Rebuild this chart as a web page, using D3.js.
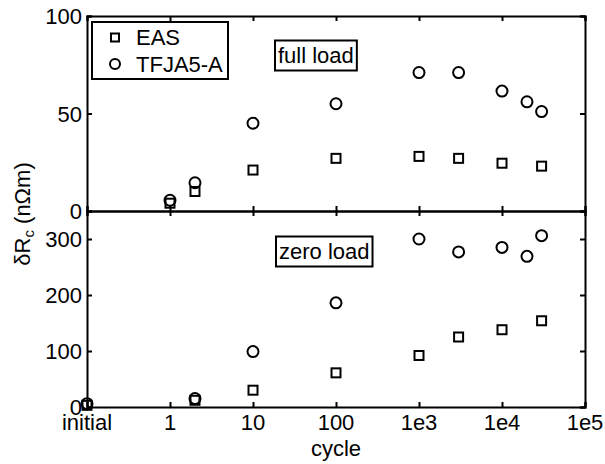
<!DOCTYPE html>
<html lang="en">
<head>
<meta charset="UTF-8">
<title>dR_c vs cycle</title>
<style>
  body { margin: 0; background: #fff; }
  text { font-family: "Liberation Sans", Arial, sans-serif; font-size: 22px; fill: #000; }
</style>
</head>
<body>
<script src="https://cdn.jsdelivr.net/npm/d3@7"></script>
<script>
    // "initial" is drawn at 0.1 on the log axis
    const xTicks = [0.1, 1, 10, 100, 1e3, 1e4, 1e5];
    const xTickLabels = ["initial", "1", "10", "100", "1e3", "1e4", "1e5"];

    // full load panel
    const fullCycles = [1, 2, 10, 100, 1e3, 3e3, 1e4, 2e4, 3e4];
    const fullEAS = [4, 10, 21, 27, 28, 27, 24.5, null, 23];
    const fullTFJA = [5.5, 14.5, 45, 55, 71, 71, 61.5, 56, 51];

    // zero load panel
    const zeroCycles = [0.1, 2, 10, 100, 1e3, 3e3, 1e4, 2e4, 3e4];
    const zeroEAS = [3, 12, 30, 61, 92, 125, 138, null, 154];
    const zeroTFJA = [6, 15, 99, 186, 300, 277, 285, 269, 306];

    const topTicks = [0, 50, 100];
    const botTicks = [0, 100, 200, 300];

    const width = 605, height = 464;
    const mLeft = 87, mRight = 585, mTop = 16, mMid = 211, mBottom = 407;

    const svg = d3.select("body").append("svg")
        .attr("width", width).attr("height", height);

    const x = d3.scaleLog().domain([0.1, 1e5]).range([mLeft, mRight]);
    const yTop = d3.scaleLinear().domain([0, 100]).range([mMid, mTop]);
    const yBot = d3.scaleLinear().domain([0, 350]).range([mBottom, mMid]);

    const tk = 5;

    // top panel axes: ticks inward
    svg.append("g").attr("transform", `translate(0,${mTop})`)
        .call(d3.axisBottom(x).tickValues(xTicks).tickSize(tk).tickFormat(""));
    svg.append("g").attr("transform", `translate(${mLeft},0)`)
        .call(d3.axisRight(yTop).tickValues(topTicks).tickSize(tk).tickFormat(""));
    svg.append("g").attr("transform", `translate(${mRight},0)`)
        .call(d3.axisLeft(yTop).tickValues(topTicks).tickSize(tk).tickFormat(""));
    svg.append("g").attr("transform", `translate(0,${mMid})`)
        .call(d3.axisTop(x).tickValues(xTicks).tickSize(tk).tickFormat(""));

    // bottom panel axes
    svg.append("g").attr("transform", `translate(0,${mMid})`)
        .call(d3.axisBottom(x).tickValues(xTicks).tickSize(tk).tickFormat(""));
    svg.append("g").attr("transform", `translate(0,${mBottom})`)
        .call(d3.axisTop(x).tickValues(xTicks).tickSize(tk).tickFormat(""));
    svg.append("g").attr("transform", `translate(${mLeft},0)`)
        .call(d3.axisRight(yBot).tickValues(botTicks).tickSize(tk).tickFormat(""));
    svg.append("g").attr("transform", `translate(${mRight},0)`)
        .call(d3.axisLeft(yBot).tickValues(botTicks).tickSize(tk).tickFormat(""));

    svg.selectAll(".domain, .tick line").attr("stroke", "#000").attr("stroke-width", 2);

    // tick labels
    svg.append("g").selectAll("text").data(xTicks).join("text")
        .attr("x", d => x(d)).attr("y", 430)
        .attr("text-anchor", "middle")
        .text((d, i) => xTickLabels[i]);
    svg.append("g").selectAll("text").data(topTicks).join("text")
        .attr("x", mLeft - 5).attr("y", d => yTop(d) + 8)
        .attr("text-anchor", "end").text(d => d);
    svg.append("g").selectAll("text").data(botTicks).join("text")
        .attr("x", mLeft - 5).attr("y", d => yBot(d) + 8)
        .attr("text-anchor", "end").text(d => d);

    // axis labels
    svg.append("text").attr("x", x(100)).attr("y", 456)
        .attr("text-anchor", "middle").text("cycle");
    const yl = svg.append("text")
        .attr("transform", `translate(30,214) rotate(-90)`)
        .attr("text-anchor", "middle");
    yl.append("tspan").text("δR");
    yl.append("tspan").attr("font-size", "15px").attr("dy", 4).text("c");
    yl.append("tspan").attr("dy", -4).text(" (nΩm)");

    const sq = 9, rc = 5.5;
    function drawSeries(cycles, vals, y, shape) {
        const pts = cycles.map((c, i) => ({c, v: vals[i]})).filter(d => d.v != null);
        const g = svg.append("g").attr("fill", "none").attr("stroke", "#000").attr("stroke-width", 2);
        if (shape === "square") {
            g.selectAll("rect").data(pts).join("rect")
                .attr("x", d => x(d.c) - sq / 2).attr("y", d => y(d.v) - sq / 2)
                .attr("width", sq).attr("height", sq);
        } else {
            g.selectAll("circle").data(pts).join("circle")
                .attr("cx", d => x(d.c)).attr("cy", d => y(d.v)).attr("r", rc);
        }
    }
    drawSeries(fullCycles, fullEAS, yTop, "square");
    drawSeries(fullCycles, fullTFJA, yTop, "circle");
    drawSeries(zeroCycles, zeroEAS, yBot, "square");
    drawSeries(zeroCycles, zeroTFJA, yBot, "circle");

    // legend
    const lg = svg.append("g");
    lg.append("rect").attr("x", 92).attr("y", 22).attr("width", 136).attr("height", 57)
        .attr("fill", "#fff").attr("stroke", "#000").attr("stroke-width", 2);
    lg.append("rect").attr("x", 115 - sq / 2 + 0.5).attr("y", 37.5 - sq / 2 + 0.5)
        .attr("width", sq - 1).attr("height", sq - 1)
        .attr("fill", "none").attr("stroke", "#000").attr("stroke-width", 2);
    lg.append("circle").attr("cx", 115).attr("cy", 64).attr("r", rc - 0.5)
        .attr("fill", "none").attr("stroke", "#000").attr("stroke-width", 2);
    lg.append("text").attr("x", 136).attr("y", 45).attr("font-size", "21px").text("EAS");
    lg.append("text").attr("x", 136).attr("y", 71.5).attr("font-size", "21px").text("TFJA5-A");

    // panel annotations
    function note(label, x0, y0) {
        const g = svg.append("g");
        const box = g.append("rect");
        const t = g.append("text").attr("x", x0).attr("y", y0).text(label);
        const b = t.node().getBBox();
        box.attr("x", b.x - 3).attr("y", b.y - 2)
            .attr("width", b.width + 6).attr("height", b.height + 5)
            .attr("fill", "#fff").attr("stroke", "#000").attr("stroke-width", 2);
    }
    note("full load", 278, 62.5);
    note("zero load", 279, 258.5);
</script>
</body>
</html>
